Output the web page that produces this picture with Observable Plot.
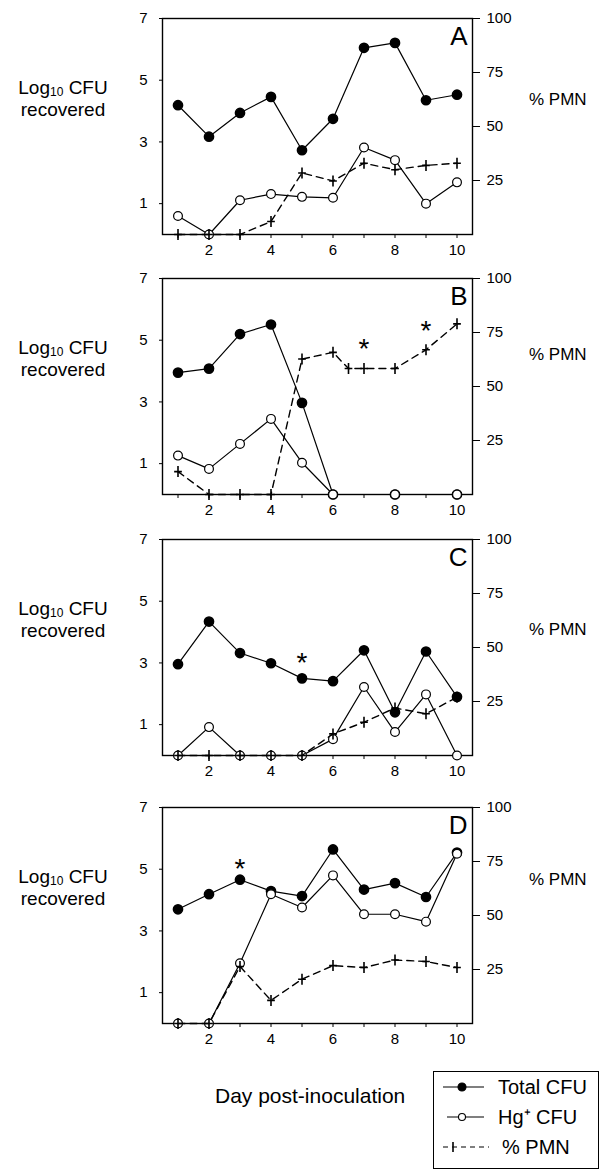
<!DOCTYPE html>
<html>
<head>
<meta charset="utf-8">
<script src="https://cdn.jsdelivr.net/npm/d3@7"></script>
<script src="https://cdn.jsdelivr.net/npm/@observablehq/plot@0.6"></script>
<style>
  html, body { margin: 0; padding: 0; background: white; }
  #root { position: relative; width: 602px; height: 1171px; background: white; font-family: "Liberation Sans", Arial, sans-serif; color: black; overflow: hidden; }
  .abs { position: absolute; }
  .ylab { position: absolute; left: 0; width: 126px; text-align: center; font-size: 19px; line-height: 22px; }
  .pmn { position: absolute; left: 529px; font-size: 17px; white-space: nowrap; }
  sub { font-size: 12px; vertical-align: -2px; line-height: 0; }
</style>
</head>
<body>
<div id="root"></div>
<script>
// ---------------- data ----------------
const panels = ["A", "B", "C", "D"];
const dayTicks = [1, 2, 3, 4, 5, 6, 7, 8, 9, 10];
const leftTicks = [1, 3, 5, 7];
const rightTicks = [25, 50, 75, 100];

// Panel A
const totalDaysA = [1, 2, 3, 4, 5, 6, 7, 8, 9, 10];
const totalA = [4.19, 3.17, 3.94, 4.46, 2.73, 3.75, 6.05, 6.21, 4.35, 4.53];
const hgDaysA = [1, 2, 3, 4, 5, 6, 7, 8, 9, 10];
const hgA = [0.6, 0.0, 1.11, 1.31, 1.22, 1.19, 2.82, 2.41, 1.0, 1.69];
const pmnDaysA = [1, 2, 3, 4, 5, 6, 7, 8, 9, 10];
const pmnA = [0, 0, 0, 6, 28.5, 24.8, 33, 30, 32, 33];

// Panel B
const totalDaysB = [1, 2, 3, 4, 5, 6, 8, 10];
const totalB = [3.95, 4.08, 5.2, 5.51, 2.97, 0, 0, 0];
const hgDaysB = [1, 2, 3, 4, 5, 6, 8, 10];
const hgB = [1.26, 0.83, 1.64, 2.45, 1.03, 0, 0, 0];
const pmnDaysB = [1, 2, 3, 4, 5, 6, 6.5, 7, 8, 9, 10];
const pmnB = [10.6, 0, 0, 0, 62.7, 65.8, 58.3, 58.3, 58.3, 67, 79];

// Panel C
const totalDaysC = [1, 2, 3, 4, 5, 6, 7, 8, 9, 10];
const totalC = [2.96, 4.34, 3.32, 2.99, 2.5, 2.41, 3.41, 1.4, 3.37, 1.9];
const hgDaysC = [1, 2, 3, 4, 5, 6, 7, 8, 9, 10];
const hgC = [0, 0.92, 0, 0, 0, 0.53, 2.22, 0.76, 1.98, 0];
const pmnDaysC = [1, 2, 3, 4, 5, 6, 7, 8, 9, 10];
const pmnC = [0, 0, 0, 0, 0, 10, 15.4, 22, 19.3, 27];

// Panel D
const totalDaysD = [1, 2, 3, 4, 5, 6, 7, 8, 9, 10];
const totalD = [3.7, 4.19, 4.66, 4.29, 4.13, 5.64, 4.34, 4.55, 4.1, 5.54];
const hgDaysD = [1, 2, 3, 4, 5, 6, 7, 8, 9, 10];
const hgD = [0, 0, 1.95, 4.19, 3.76, 4.8, 3.54, 3.54, 3.3, 5.5];
const pmnDaysD = [1, 2, 3, 4, 5, 6, 7, 8, 9, 10];
const pmnD = [0, 0, 26.4, 10.7, 20.5, 26.8, 25.9, 29.4, 28.7, 25.9];

// significance asterisks
const starPanels = ["B", "B", "C", "D"];
const starDays = [7, 9, 5, 3];
const starValues = [69, 77.4, 3.12, 5.12];
const starScales = ["pct", "pct", "log", "log"];

const legendLabels = ["Total CFU", "Hg\u207A CFU", "% PMN"];
const xTitle = "Day post-inoculation";

// ---------------- build ----------------
const series = {
  A: [totalDaysA, totalA, hgDaysA, hgA, pmnDaysA, pmnA],
  B: [totalDaysB, totalB, hgDaysB, hgB, pmnDaysB, pmnB],
  C: [totalDaysC, totalC, hgDaysC, hgC, pmnDaysC, pmnC],
  D: [totalDaysD, totalD, hgDaysD, hgD, pmnDaysD, pmnD]
};
const zip = (xs, ys) => xs.map((d, i) => ({day: d, v: ys[i]}));

const frameTops = [18, 278, 539, 807];
const pmnLabelOffsets = [82, 77, 91, 73];
const MT = 18, FH = 216, MB = 36, ML = 162, MR = 130;
const H = MT + FH + MB;
const font = "'Liberation Sans', Arial, sans-serif";

const tickSymbol = {
  draw(context, size) {
    const r = Math.sqrt(size / Math.PI);
    context.moveTo(0, -r);
    context.lineTo(0, r);
    context.moveTo(-r * 0.7, 0);
    context.lineTo(r * 0.7, 0);
  }
};

const root = document.getElementById("root");

panels.forEach((p, i) => {
  const [td, tv, hd, hv, pd, pv] = series[p];
  const total = zip(td, tv), hg = zip(hd, hv), pmn = zip(pd, pv);
  const stars = starPanels.map((sp, k) => ({sp, day: starDays[k], v: starValues[k], s: starScales[k]})).filter(s => s.sp === p);
  const starsLog = stars.filter(s => s.s === "log");
  const starsPct = stars.filter(s => s.s === "pct");
  const top = frameTops[i] - MT;

  const left = Plot.plot({
    width: 602, height: H,
    marginTop: MT, marginBottom: MB, marginLeft: ML, marginRight: MR,
    style: {fontFamily: font, fontSize: "15px", background: "transparent", color: "black", overflow: "visible"},
    x: {domain: [0.5, 10.5], ticks: dayTicks, tickFormat: d => d % 2 === 0 ? String(d) : "", tickSize: 4, tickPadding: 6, label: null},
    y: {domain: [0, 7], ticks: leftTicks, tickFormat: d => String(d), tickSize: 3, tickPadding: 12, label: null},
    marks: [
      Plot.frame({stroke: "black", strokeWidth: 1.4}),
      Plot.line(total, {x: "day", y: "v", stroke: "black", strokeWidth: 1.2}),
      Plot.line(hg, {x: "day", y: "v", stroke: "black", strokeWidth: 1.2}),
      Plot.dot(total, {x: "day", y: "v", r: 4.6, fill: "black", stroke: "black"}),
      Plot.dot(hg, {x: "day", y: "v", r: 4.4, fill: "white", stroke: "black", strokeWidth: 1.2}),
      Plot.text(starsLog, {x: "day", y: "v", text: () => "*", fontSize: 28, dy: 4}),
      Plot.text([p], {frameAnchor: "top-right", text: d => d, fontSize: 26, dx: -5, dy: 8, textAnchor: "end", lineAnchor: "top"})
    ]
  });
  left.style.position = "absolute";
  left.style.left = "0px";
  left.style.top = top + "px";
  root.appendChild(left);

  const right = Plot.plot({
    width: 602, height: H,
    marginTop: MT, marginBottom: MB, marginLeft: ML, marginRight: MR,
    style: {fontFamily: font, fontSize: "15px", background: "transparent", color: "black", overflow: "visible"},
    x: {domain: [0.5, 10.5], axis: null},
    y: {domain: [0, 100], ticks: rightTicks, axis: "right", tickSize: 7, tickPadding: 7, label: null},
    marks: [
      Plot.line(pmn, {x: "day", y: "v", stroke: "black", strokeWidth: 1.4, strokeDasharray: "7,5"}),
      Plot.dot(pmn, {x: "day", y: "v", r: 5.5, symbol: tickSymbol, fill: "none", stroke: "black", strokeWidth: 1.6}),
      Plot.text(starsPct, {x: "day", y: "v", text: () => "*", fontSize: 28, dy: 4})
    ]
  });
  right.style.position = "absolute";
  right.style.left = "0px";
  right.style.top = top + "px";
  root.appendChild(right);

  const yl = document.createElement("div");
  yl.className = "ylab";
  yl.style.top = (frameTops[i] + 59) + "px";
  yl.innerHTML = "Log<sub>10</sub> CFU<br>recovered";
  root.appendChild(yl);

  const pl = document.createElement("div");
  pl.className = "pmn";
  pl.style.top = (frameTops[i] + pmnLabelOffsets[i] - 10) + "px";
  pl.textContent = "% PMN";
  root.appendChild(pl);
});

// x title
const xt = document.createElement("div");
xt.className = "abs";
xt.style.left = "215px";
xt.style.top = "1084px";
xt.style.fontSize = "21px";
xt.style.whiteSpace = "nowrap";
xt.textContent = xTitle;
root.appendChild(xt);

// legend
const lg = document.createElement("div");
lg.className = "abs";
lg.style.left = "433px";
lg.style.top = "1071px";
lg.style.width = "166px";
lg.style.height = "98px";
lg.style.border = "1px solid black";
lg.style.boxSizing = "border-box";
root.appendChild(lg);

const lsvg = d3.select(lg).append("svg").attr("width", 166).attr("height", 98).style("position", "absolute").style("left", "-1px").style("top", "-1px");
legendLabels.forEach((lab, k) => {
  const y = 16 + k * 30;
  const g = lsvg.append("g");
  if (k < 2) {
    g.append("line").attr("x1", k === 0 ? 10 : 14).attr("x2", 51).attr("y1", y).attr("y2", y).attr("stroke", "black").attr("stroke-width", 1.2);
    g.append("circle").attr("cx", 29).attr("cy", y).attr("r", k === 0 ? 4 : 3.5)
      .attr("fill", k === 0 ? "black" : "white").attr("stroke", "black").attr("stroke-width", 1.1);
  } else {
    g.append("line").attr("x1", 10).attr("x2", 56).attr("y1", y).attr("y2", y).attr("stroke", "black").attr("stroke-width", 1.2).attr("stroke-dasharray", "5,4");
    g.append("line").attr("x1", 20).attr("x2", 20).attr("y1", y - 5).attr("y2", y + 5).attr("stroke", "black").attr("stroke-width", 1.6);
  }
  g.append("text").attr("x", k === 2 ? 69 : 65).attr("y", y + 7).attr("font-size", 20).attr("font-family", font).text(lab);
});
</script>
</body>
</html>
